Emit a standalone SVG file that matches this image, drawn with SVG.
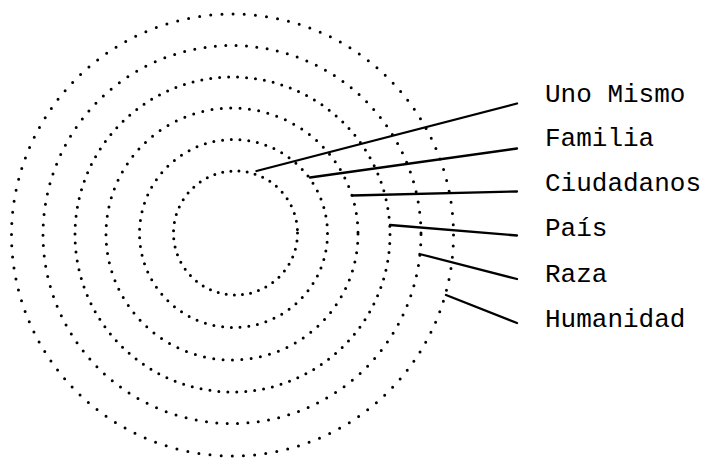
<svg xmlns="http://www.w3.org/2000/svg" width="714" height="458" viewBox="0 0 714 458">
<style>
.ring{fill:none;stroke:#000;stroke-width:3;stroke-linecap:round}
.con{stroke:#000;stroke-width:2.3;fill:none;stroke-linecap:round}
.lbl{font-family:"Liberation Mono","Courier New",monospace;font-size:26px;fill:#000}
</style>
<rect width="714" height="458" fill="#fff"/>
<g id="rings">
<g id="ring-uno-mismo"><circle class="ring" cx="235.5" cy="233" r="62" stroke-dasharray="0 8.2"/></g>
<g id="ring-familia"><circle class="ring" cx="233.5" cy="233.5" r="94" stroke-dasharray="0 8.8"/></g>
<g id="ring-ciudadanos"><circle class="ring" cx="232" cy="234" r="126" stroke-dasharray="0 9.4"/></g>
<g id="ring-pais"><circle class="ring" cx="232.5" cy="234.5" r="157.5" stroke-dasharray="0 9"/></g>
<g id="ring-raza"><circle class="ring" cx="232" cy="234.5" r="189" stroke-dasharray="0 10.4"/></g>
<g id="ring-humanidad"><circle class="ring" cx="232.5" cy="235" r="221" stroke-dasharray="0 11.2"/></g>
</g>
<g id="connectors">
<line class="con" x1="256.5" y1="171" x2="517" y2="103.5"/>
<line class="con" x1="310" y1="177.5" x2="517" y2="148.5"/>
<line class="con" x1="352" y1="195.5" x2="517" y2="191.5"/>
<line class="con" x1="390" y1="225" x2="517" y2="235.5"/>
<line class="con" x1="419.5" y1="254" x2="517" y2="279"/>
<line class="con" x1="446" y1="295" x2="517" y2="323"/>
</g>
<g id="labels">
<g id="label-uno-mismo"><text class="lbl" x="545" y="102">Uno Mismo</text></g>
<g id="label-familia"><text class="lbl" x="545" y="146">Familia</text></g>
<g id="label-ciudadanos"><text class="lbl" x="545" y="191">Ciudadanos</text></g>
<g id="label-pais"><text class="lbl" x="545" y="236">País</text></g>
<g id="label-raza"><text class="lbl" x="545" y="282">Raza</text></g>
<g id="label-humanidad"><text class="lbl" x="545" y="327">Humanidad</text></g>
</g>
</svg>
